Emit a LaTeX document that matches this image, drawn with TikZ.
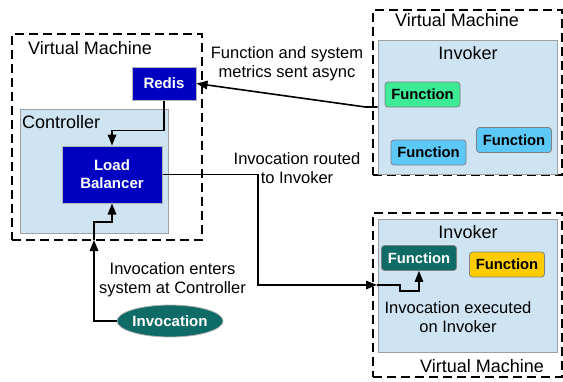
\documentclass[tikz,border=0pt]{standalone}
\usepackage{fontspec}
\setmainfont{Liberation Sans}
\usetikzlibrary{arrows.meta,shapes.geometric}
\definecolor{darkblue}{HTML}{0000C0}
\definecolor{panelblue}{HTML}{CFE4F2}
\definecolor{fgreen}{HTML}{3DEA95}
\definecolor{fblue}{HTML}{5CC8F8}
\definecolor{fteal}{HTML}{0F6B66}
\definecolor{fyellow}{HTML}{FFCC00}
\begin{document}
\begin{tikzpicture}[x=1pt,y=-1pt,
  vm/.style={draw, line width=1.6pt, dash pattern=on 9pt off 5pt, inner sep=0pt},
  panel/.style={draw=gray!75, fill=panelblue, line width=1pt, inner sep=0pt},
  darkbox/.style={draw=gray!60, line width=1pt, fill=darkblue, text=white, align=center, inner sep=0pt,
    font=\bfseries\fontsize{15}{18}\selectfont},
  fn/.style={draw=gray, line width=0.8pt, rounded corners=3pt, inner sep=0pt, minimum width=75pt, minimum height=25pt,
    font=\bfseries\fontsize{14.8}{17}\selectfont},
  title/.style={font=\fontsize{18}{21}\selectfont, inner sep=0pt},
  lbl/.style={font=\fontsize{16.5}{19}\selectfont, align=center, inner sep=0pt},
  conn/.style={line width=1.6pt, -{Triangle[length=11pt,width=8.5pt]}}
]
\useasboundingbox (0,0) rectangle (563,381);
% left VM
\node[vm, minimum width=190pt, minimum height=206pt] (vm1) at (107,137) {};
\node[title] (vm1t) at (90,48) {Virtual Machine};
\node[panel, minimum width=148pt, minimum height=124pt] (ctrl) at (94,171) {};
\node[title, anchor=west] (ctrlt) at (22,122) {Controller};
\node[darkbox, minimum width=64pt, minimum height=33pt] (redis) at (164,83.5) {Redis};
\node[darkbox, minimum width=100pt, minimum height=57pt] (lb) at (112,174.5) {Load\\Balancer};
% top right VM
\node[vm, minimum width=189pt, minimum height=165pt] (vm2) at (467.5,92.5) {};
\node[title] (vm2t) at (457,20) {Virtual Machine};
\node[panel, minimum width=179pt, minimum height=134pt] (inv1) at (467.5,107) {};
\node[title] (inv1t) at (468,53) {Invoker};
\node[fn, fill=fgreen] (f1) at (422.5,94.5) {Function};
\node[fn, fill=fblue] (f2) at (428.5,152.5) {Function};
\node[fn, fill=fblue] (f3) at (514,140) {Function};
% bottom right VM
\node[vm, minimum width=189pt, minimum height=164pt] (vm3) at (467.5,295) {};
\node[panel, minimum width=179pt, minimum height=133pt] (inv2) at (467.5,285.5) {};
\node[title] (inv2t) at (468,232) {Invoker};
\node[fn, fill=fteal, text=white] (f4) at (419,258) {Function};
\node[fn, fill=fyellow] (f5) at (507,264.5) {Function};
\node[lbl] (exec) at (458,317) {Invocation executed\\on Invoker};
\node[title, fill=white, inner xsep=2pt, inner ysep=1pt] (vm3t) at (482,366) {Virtual Machine};
% invocation
\node[ellipse, draw=gray!60, line width=0.8pt, fill=fteal, text=white, minimum width=92pt, minimum height=32pt, inner sep=0pt,
  font=\bfseries\fontsize{15}{18}\selectfont] (invc) at (170,321) {Invocation};
% labels
\node[lbl] (l1) at (287,64) {Function and system\\metrics sent async};
\node[lbl] (l2) at (297,168) {Invocation routed\\to Invoker};
\node[lbl] (l3) at (172.5,280) {Invocation enters\\system at Controller};
% connectors
\coordinate (bend) at (258,285);
\coordinate (entry2) at (377,285);
\coordinate (entry1) at (94,240);
\draw[conn] (inv1.west) -- ++(-12,0) -- (redis.east);
\draw[conn] (redis.south) -- ++(0,30) -| (lb.north);
\draw[conn] (lb.east) -| (bend) -- (entry2);
\draw[conn] (entry2) -- ++(23,0) -- ++(0,6) -| (f4.south);
\draw[conn] (invc.west) -| (entry1);
\draw[conn] (entry1) -- ++(0,-18) -| (lb.south);
\end{tikzpicture}
\end{document}
